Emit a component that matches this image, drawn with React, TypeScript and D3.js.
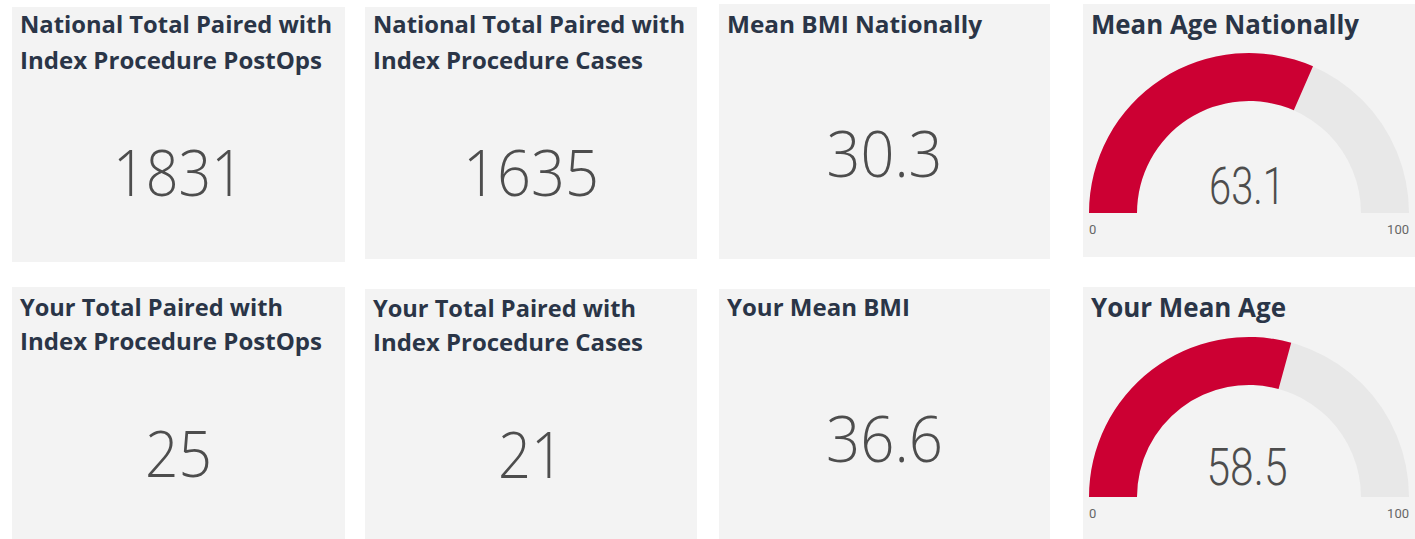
import React from "react";
import * as d3 from "d3";

// ---- data ----
const cardTitles: string[][] = [
  ["National Total Paired with", "Index Procedure PostOps"],
  ["National Total Paired with", "Index Procedure Cases"],
  ["Mean BMI Nationally"],
  ["Your Total Paired with", "Index Procedure PostOps"],
  ["Your Total Paired with", "Index Procedure Cases"],
  ["Your Mean BMI"],
];
const cardValues: string[] = ["1831", "1635", "30.3", "25", "21", "36.6"];
const gaugeTitles: string[] = ["Mean Age Nationally", "Your Mean Age"];
const gaugeValues: number[] = [63.1, 58.5];
const gaugeMin = 0;
const gaugeMax = 100;

// ---- layout (pixel geometry, not data) ----
const W = 1415;
const H = 539;
const cardBoxes = [
  { x: 12, y: 7, w: 333, h: 255 },
  { x: 365, y: 7, w: 332, h: 252 },
  { x: 719, y: 4, w: 331, h: 255 },
  { x: 12, y: 287, w: 333, h: 252 },
  { x: 365, y: 289, w: 332, h: 250 },
  { x: 719, y: 289, w: 331, h: 250 },
];
const titleBase = [
  [33, 69],
  [33, 69],
  [33],
  [316, 350],
  [317, 351],
  [316],
];
const titleWidths = [
  [312, 302],
  [312, 270],
  [255],
  [263, 302],
  [263, 270],
  [183],
];
const valueBase = [196, 196, 177, 477, 478, 462];
const valueWidths = [131, 136, 116, 67, 66, 117];

const gaugeBoxes = [
  { x: 1083, y: 4, w: 332, h: 253 },
  { x: 1083, y: 287, w: 332, h: 252 },
];
const gaugeCenters = [
  { cx: 1249, cy: 213 },
  { cx: 1249, cy: 497 },
];
const gaugeTitleBase = [34, 317];
const gaugeTitleWidths = [268, 195];

const BG = "#F3F3F3";
const TITLE = "#2A3547";
const VALUE = "#4D4D4D";
const RED = "#CC0033";
const TRACK = "#E8E8E8";

const titleFont = "'Open Sans', 'Noto Sans', sans-serif";
const valueFont = "'Open Sans', 'Noto Sans', sans-serif";
const gaugeFont = "Roboto, 'Open Sans', sans-serif";

export default function App() {
  const angle = d3
    .scaleLinear()
    .domain([gaugeMin, gaugeMax])
    .range([-Math.PI / 2, Math.PI / 2]);
  const arc = d3.arc<any>().innerRadius(112).outerRadius(160);

  return (
    <div style={{ position: "absolute", left: 0, top: 0, width: W, height: H, background: "#fff" }}>
      <svg width={W} height={H} style={{ display: "block" }}>
        <rect x={0} y={0} width={W} height={H} fill="#fff" />
        {cardBoxes.map((b, i) => (
          <g key={"c" + i}>
            <rect x={b.x} y={b.y} width={b.w} height={b.h} fill={BG} />
            {cardTitles[i].map((t, j) => (
              <text
                key={j}
                x={b.x + 8}
                y={titleBase[i][j]}
                fontFamily={titleFont}
                fontWeight={700}
                fontSize={24}
                fill={TITLE}
                textLength={titleWidths[i][j]}
                lengthAdjust="spacingAndGlyphs"
              >
                {t}
              </text>
            ))}
            <text
              x={b.x + b.w / 2}
              y={valueBase[i]}
              textAnchor="middle"
              fontFamily={valueFont}
              fontWeight={300}
              fontSize={65}
              fill={VALUE}
              textLength={valueWidths[i]}
              lengthAdjust="spacingAndGlyphs"
            >
              {cardValues[i]}
            </text>
          </g>
        ))}
        {gaugeBoxes.map((b, i) => {
          const c = gaugeCenters[i];
          const v = gaugeValues[i];
          return (
            <g key={"g" + i}>
              <rect x={b.x} y={b.y} width={b.w} height={b.h} fill={BG} />
              <text
                x={b.x + 8}
                y={gaugeTitleBase[i]}
                fontFamily={titleFont}
                fontWeight={700}
                fontSize={27}
                fill={TITLE}
                textLength={gaugeTitleWidths[i]}
                lengthAdjust="spacingAndGlyphs"
              >
                {gaugeTitles[i]}
              </text>
              <g transform={`translate(${c.cx},${c.cy})`}>
                <path
                  d={arc({ startAngle: angle(gaugeMin), endAngle: angle(gaugeMax) }) as string}
                  fill={TRACK}
                />
                <path
                  d={arc({ startAngle: angle(gaugeMin), endAngle: angle(v) }) as string}
                  fill={RED}
                />
                <text
                  x={-2}
                  y={i === 0 ? -9 : -12}
                  textAnchor="middle"
                  fontFamily={gaugeFont}
                  fontWeight={300}
                  fontSize={52}
                  fill={VALUE}
                  textLength={i === 0 ? 76 : 81}
                  lengthAdjust="spacingAndGlyphs"
                >
                  {v.toFixed(1)}
                </text>
                <text
                  x={-160}
                  y={21}
                  textAnchor="start"
                  fontFamily={gaugeFont}
                  fontSize={13}
                  fill="#666"
                >
                  {String(gaugeMin)}
                </text>
                <text
                  x={160}
                  y={21}
                  textAnchor="end"
                  fontFamily={gaugeFont}
                  fontSize={13}
                  fill="#666"
                >
                  {String(gaugeMax)}
                </text>
              </g>
            </g>
          );
        })}
      </svg>
    </div>
  );
}
